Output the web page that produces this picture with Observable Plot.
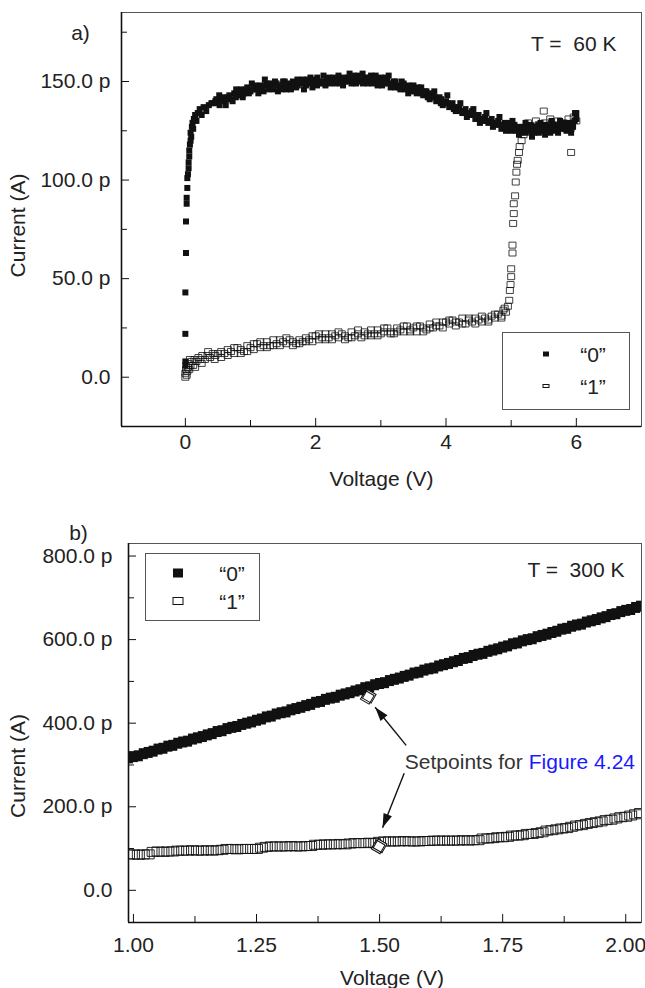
<!DOCTYPE html>
<html><head><meta charset="utf-8">
<script src="https://cdn.jsdelivr.net/npm/d3@7"></script>
<script src="https://cdn.jsdelivr.net/npm/@observablehq/plot@0.6"></script>
<style>
body{margin:0;background:#fff;font-family:"Liberation Sans",Arial,Helvetica,sans-serif;color:#222;}
#wrap{position:relative;width:645px;height:988px;overflow:hidden;}
#wrap svg{display:block;}
.box{position:absolute;border:1px solid #555;box-sizing:border-box;background:#fff;}
.mk{position:absolute;box-sizing:border-box;transform:translate(-50%,-50%);}
.lt{position:absolute;font-size:21px;line-height:21px;transform:translate(-50%,-50%);white-space:nowrap;color:#222;}
</style></head><body><div id="wrap"></div>
<script>
// ---------- panel a) T = 60 K : [voltage (V), current (pA)] ----------
const seriesNames = ["\u201c0\u201d", "\u201c1\u201d"];
const topState0 = [
[0.00,6],[0.00,8],[0.00,22],[0.00,43],[0.01,63],[0.01,79],[0.02,88],[0.02,91],[0.03,96],[0.03,101],[0.04,103],[0.05,106],[0.05,109],[0.06,112],[0.06,115],[0.07,118],[0.08,120],[0.08,124],[0.09,122],[0.10,127],[0.11,129],[0.12,126],[0.13,131],[0.15,133],[0.17,130],[0.19,134],[0.22,136],[0.25,133],[0.28,137],[0.32,135],[0.36,138],[0.40,139],
[0.42,139],[0.46,140],[0.50,139],[0.55,141],[0.60,140],[0.65,142],[0.70,141],[0.75,144],[0.80,143],[0.85,146],[0.90,144],[0.95,147],[1.00,145],[1.05,147],[1.10,146],[1.15,148],[1.20,145],[1.25,149],[1.30,147],[1.35,146],[1.40,149],[1.45,147],[1.50,150],[1.55,146],[1.60,148],[1.65,150],[1.70,147],[1.75,149],[1.80,151],[1.85,148],[1.90,150],[1.95,147],[2.00,151],[2.05,149],[2.10,150],[2.15,148],[2.20,152],[2.25,150],[2.30,149],[2.35,153],[2.40,151],[2.45,150],[2.50,152],[2.55,149],[2.60,151],[2.65,153],[2.70,150],[2.75,152],[2.80,149],[2.85,153],[2.90,150],[2.95,148],[3.00,152],[3.05,149],[3.10,151],[3.15,147],[3.20,150],[3.25,148],[3.30,146],[3.35,149],[3.40,147],[3.45,145],[3.50,148],[3.55,144],[3.60,146],[3.65,143],[3.70,145],[3.75,141],[3.80,143],[3.85,140],[3.90,142],[3.95,138],[4.00,140],[4.05,137],[4.10,139],[4.15,135],[4.20,137],[4.25,134],[4.30,136],[4.35,133],[4.40,135],[4.45,131],[4.50,133],[4.55,130],[4.60,132],[4.65,129],[4.70,131],[4.75,128],[4.80,130],[4.85,126],[4.90,129],[4.95,127],[5.00,125],[5.05,128],[5.10,126],[5.15,124],[5.20,127],[5.25,125],[5.30,128],[5.35,124],[5.40,126],[5.45,129],[5.50,125],[5.55,127],[5.60,124],[5.65,128],[5.70,126],[5.75,130],[5.80,127],[5.85,125],[5.90,129],[5.95,127],[6.00,131],
[0.52,143],[0.62,138],[0.78,146],[0.88,142],[1.02,149],[1.12,144],[1.22,151],[1.32,149],[1.42,145],[1.52,148],[1.62,146],[1.72,151],[1.82,146],[1.92,152],[2.02,148],[2.12,153],[2.22,149],[2.32,151],[2.42,148],[2.52,154],[2.62,149],[2.72,154],[2.82,151],[2.92,153],[3.02,148],[3.12,153],[3.22,147],[3.32,150],[3.42,144],[3.52,146],[3.62,147],[3.72,142],[3.82,145],[3.92,139],[4.02,143],[4.12,136],[4.22,139],[4.32,132],[4.42,136],[4.52,129],[4.62,134],[4.72,127],[4.82,132],[4.92,125],[5.02,130],[5.12,123],[5.22,129],[5.32,122],[5.42,128],[5.52,123],[5.62,130],[5.72,124],[5.82,129],[5.92,124],[5.98,134],[6.00,134],
[0.475,141],[0.525,138],[0.575,142],[0.625,141],[0.675,143],[0.725,140],[0.775,142],[0.825,145],[0.875,143],[0.925,146],[0.975,144],[1.025,146],[1.075,148],[1.125,147],[1.175,146],[1.225,148],[1.275,146],[1.325,148],[1.375,150],[1.425,148],[1.475,146],[1.525,150],[1.575,149],[1.625,147],[1.675,149],[1.725,148],[1.775,150],[1.825,149],[1.875,151],[1.925,149],[1.975,150],[2.025,152],[2.075,150],[2.125,149],[2.175,151],[2.225,150],[2.275,152],[2.325,150],[2.375,149],[2.425,152],[2.475,150],[2.525,151],[2.575,153],[2.625,150],[2.675,151],[2.725,149],[2.775,151],[2.825,152],[2.875,149],[2.925,151],[2.975,150],[3.025,150],[3.075,152],[3.125,149],[3.175,148],[3.225,150],[3.275,147],[3.325,148],[3.375,146],[3.425,148],[3.475,146],[3.525,145],[3.575,147],[3.625,144],[3.675,145],[3.725,143],[3.775,144],[3.825,142],[3.875,141],[3.925,141],[3.975,139],[4.025,139],[4.075,138],[4.125,137],[4.175,136],[4.225,135],[4.275,135],[4.325,134],[4.375,134],[4.425,133],[4.475,132],[4.525,131],[4.575,131],[4.625,130],[4.675,130],[4.725,129],[4.775,129],[4.825,128],[4.875,128],[4.925,127],[4.975,129],[5.025,126],[5.075,125],[5.125,127],[5.175,126],[5.225,124],[5.275,126],[5.325,125],[5.375,127],[5.425,124],[5.475,126],[5.525,128],[5.575,125],[5.625,127],[5.675,125],[5.725,128],[5.775,126],[5.825,128],[5.875,127],[5.925,126],[5.975,130]
];
const topState1 = [
[0.00,0],[0.00,2],[0.01,4],[0.02,1],[0.03,3],[0.04,5],[0.05,7],[0.06,4],[0.08,6],[0.10,8],[0.12,6],[0.14,9],[0.17,8],[0.20,10],[0.23,9],[0.26,11],[0.30,9],[0.34,11],[0.38,10],[0.42,12],[0.46,11],[0.50,12],[0.55,13],[0.60,12],[0.65,14],[0.70,13],[0.75,12],[0.80,15],[0.85,14],[0.90,13],[0.95,16],[1.00,15],[1.05,14],[1.10,17],[1.15,15],[1.20,16],[1.25,18],[1.30,16],[1.35,19],[1.40,17],[1.45,16],[1.50,18],[1.55,17],[1.60,19],[1.65,18],[1.70,17],[1.75,19],[1.80,18],[1.85,20],[1.90,19],[1.95,18],[2.00,21],[2.05,19],[2.10,20],[2.15,22],[2.20,20],[2.25,19],[2.30,21],[2.35,20],[2.40,22],[2.45,21],[2.50,20],[2.55,23],[2.60,21],[2.65,22],[2.70,20],[2.75,23],[2.80,22],[2.85,21],[2.90,22],[2.95,24],[3.00,22],[3.05,23],[3.10,25],[3.15,23],[3.20,22],[3.25,25],[3.30,24],[3.35,23],[3.40,26],[3.45,24],[3.50,25],[3.55,23],[3.60,26],[3.65,25],[3.70,24],[3.75,27],[3.80,25],[3.85,28],[3.90,26],[3.95,25],[4.00,28],[4.05,27],[4.10,29],[4.15,26],[4.20,28],[4.25,30],[4.30,27],[4.35,29],[4.40,28],[4.45,30],[4.50,29],[4.55,28],[4.60,30],[4.65,29],[4.70,31],[4.75,30],[4.80,32],[4.85,31],[4.88,34],[4.92,33],[4.95,36],[4.97,39],[4.98,44],[4.99,47],[5.00,51],[5.00,55],[5.02,63],[5.02,67],[5.03,78],[5.04,83],[5.04,88],[5.06,92],[5.07,99],[5.08,104],[5.09,108],[5.10,110],[5.12,114],[5.13,117],[5.16,120],[5.19,123],[5.22,126],[5.26,129],[5.30,127],[5.34,125],[5.38,130],[5.42,128],[5.46,126],[5.50,135],[5.52,129],[5.56,127],[5.60,131],[5.64,128],[5.68,126],[5.72,130],[5.76,127],[5.80,129],[5.84,126],[5.88,131],[5.92,114],[5.93,128],[5.96,132],[6.00,130],
[0.07,9],[0.15,5],[0.25,7],[0.35,13],[0.45,9],[0.55,10],[0.65,11],[0.75,15],[0.85,12],[0.95,13],[1.05,17],[1.15,18],[1.25,15],[1.35,16],[1.45,19],[1.55,20],[1.65,16],[1.75,17],[1.85,18],[1.95,21],[2.05,22],[2.15,19],[2.25,22],[2.35,23],[2.45,19],[2.55,20],[2.65,24],[2.75,21],[2.85,24],[2.95,21],[3.05,25],[3.15,22],[3.25,23],[3.35,26],[3.45,23],[3.55,26],[3.65,23],[3.75,25],[3.85,26],[3.95,28],[4.05,29],[4.15,28],[4.25,27],[4.35,30],[4.45,27],[4.55,31],[4.65,28],[4.75,32],[4.85,30],[4.90,35]
];
// ---------- panel b) T = 300 K ----------
const botState0 = [
[0.99,317],[1.00,320],[1.01,322],[1.02,327],[1.03,330],[1.04,333],[1.05,338],[1.06,340],[1.07,345],[1.08,347],[1.09,352],[1.10,355],[1.11,357],[1.12,362],[1.13,365],[1.14,368],[1.15,372],[1.16,375],[1.17,380],[1.18,382],[1.19,387],[1.20,390],[1.21,392],[1.22,397],[1.23,400],[1.24,403],[1.25,407],[1.26,410],[1.27,415],[1.28,417],[1.29,422],[1.30,425],[1.31,427],[1.32,432],[1.33,435],[1.34,438],[1.35,442],[1.36,445],[1.37,450],[1.38,452],[1.39,457],[1.40,460],[1.41,462],[1.42,467],[1.43,470],[1.44,473],[1.45,477],[1.46,480],[1.47,485],[1.48,487],[1.49,492],[1.50,495],[1.51,497],[1.52,502],[1.53,505],[1.54,508],[1.55,512],[1.56,515],[1.57,520],[1.58,522],[1.59,527],[1.60,530],[1.61,532],[1.62,537],[1.63,540],[1.64,543],[1.65,547],[1.66,550],[1.67,555],[1.68,557],[1.69,562],[1.70,565],[1.71,567],[1.72,572],[1.73,575],[1.74,578],[1.75,582],[1.76,585],[1.77,590],[1.78,592],[1.79,597],[1.80,600],[1.81,602],[1.82,607],[1.83,610],[1.84,613],[1.85,617],[1.86,620],[1.87,625],[1.88,627],[1.89,632],[1.90,635],[1.91,637],[1.92,642],[1.93,645],[1.94,648],[1.95,652],[1.96,655],[1.97,660],[1.98,662],[1.99,667],[2.00,670],[2.01,672],[2.02,677],[2.03,680]
];
const botState1 = [
[0.99,86],[1.00,86],[1.01,85],[1.02,86],[1.03,86],[1.04,92],[1.05,93],[1.06,92],[1.07,93],[1.08,93],[1.09,95],[1.10,95],[1.11,95],[1.12,96],[1.13,95],[1.14,95],[1.15,96],[1.16,95],[1.17,96],[1.18,97],[1.19,99],[1.20,99],[1.21,98],[1.22,99],[1.23,99],[1.24,99],[1.25,99],[1.26,102],[1.27,104],[1.28,105],[1.29,105],[1.30,105],[1.31,105],[1.32,106],[1.33,105],[1.34,105],[1.35,106],[1.36,106],[1.37,109],[1.38,109],[1.39,110],[1.40,110],[1.41,110],[1.42,111],[1.43,110],[1.44,112],[1.45,113],[1.46,113],[1.47,113],[1.48,114],[1.49,113],[1.50,116],[1.51,117],[1.52,117],[1.53,117],[1.54,117],[1.55,118],[1.56,117],[1.57,117],[1.58,117],[1.59,118],[1.60,118],[1.61,119],[1.62,119],[1.63,119],[1.64,119],[1.65,119],[1.66,119],[1.67,120],[1.68,119],[1.69,120],[1.70,120],[1.71,124],[1.72,124],[1.73,125],[1.74,127],[1.75,127],[1.76,128],[1.77,131],[1.78,131],[1.79,132],[1.80,135],[1.81,135],[1.82,137],[1.83,139],[1.84,143],[1.85,144],[1.86,146],[1.87,148],[1.88,149],[1.89,152],[1.90,155],[1.91,156],[1.92,159],[1.93,161],[1.94,163],[1.95,165],[1.96,168],[1.97,169],[1.98,172],[1.99,175],[2.00,176],[2.01,179],[2.02,182],[2.03,185]
];
const setpointV = [1.475, 1.497];
const setpointI = [462, 104];
const arrowFromV = [1.554, 1.550];
const arrowFromI = [347, 280];
const arrowToV = [1.491, 1.506];
const arrowToI = [438, 150];
const noteV = [1.803];
const noteI = [307];

// axes
const xDomainA = [-0.98, 7.0], yDomainA = [-25, 185];
const xMajorA = [0, 2, 4, 6], xMinorA = [1, 3, 5];
const yMajorA = [0, 50, 100, 150], yMinorA = [25, 75, 125, 175];
const xDomainB = [0.99, 2.032], yDomainB = [-77, 830];
const xMajorB = [1.00, 1.25, 1.50, 1.75, 2.00], xMinorB = [1.125, 1.375, 1.625, 1.875];
const yMajorB = [0, 200, 400, 600, 800], yMinorB = [100, 300, 500, 700];

const FONT = "Liberation Sans, Arial, Helvetica, sans-serif";
const FS = 21;
const fmtI = d => d === 0 ? "0.0" : d.toFixed(1) + " p";
const rectSym = (w, h) => ({draw(ctx) { ctx.rect(-w / 2, -h / 2, w, h); }});
const headSym = {draw(ctx) { ctx.moveTo(0, 0); ctx.lineTo(-4.5, 14); ctx.lineTo(4.5, 14); ctx.closePath(); }};
const toRows = arr => arr.map(([V, I]) => ({V, I}));

function panel(cfg) {
  const iw = 645 - cfg.ml - cfg.mr, ih = cfg.h - cfg.mt - cfg.mb;
  return Plot.plot({
    width: 645, height: cfg.h,
    marginLeft: cfg.ml, marginRight: cfg.mr, marginTop: cfg.mt, marginBottom: cfg.mb,
    style: {fontFamily: FONT, fontSize: FS + "px", color: "#222", background: "white", overflow: "visible"},
    x: {domain: cfg.xDomain}, y: {domain: cfg.yDomain},
    marks: [
      ...cfg.marks,
      Plot.frame({stroke: "#555", strokeWidth: 1}),
      Plot.ruleX([cfg.xDomain[0]], {stroke: "#111", strokeWidth: 1.6}),
      Plot.ruleY([cfg.yDomain[0]], {stroke: "#111", strokeWidth: 1.6}),
      Plot.tickX(cfg.xMajor, {x: d => d, insetTop: ih - 8, stroke: "#111"}),
      Plot.tickX(cfg.xMinor, {x: d => d, insetTop: ih - 6, stroke: "#111"}),
      Plot.tickY(cfg.yMajor, {y: d => d, insetRight: iw - 8, stroke: "#111"}),
      Plot.tickY(cfg.yMinor, {y: d => d, insetRight: iw - 6, stroke: "#111"}),
      Plot.axisX({ticks: cfg.xMajor, tickSize: 0, tickPadding: cfg.xPad, tickFormat: cfg.xFmt, label: null, fontSize: FS, fill: "#222"}),
      Plot.axisY({ticks: cfg.yMajor, tickSize: 0, tickPadding: cfg.yPad, tickFormat: fmtI, label: null, fontSize: FS, fill: "#222"}),
      Plot.text(["Voltage (V)"], {frameAnchor: "bottom", dx: cfg.xlabDx, dy: cfg.xlabDy, textAnchor: "middle", lineAnchor: "middle", fontSize: FS, fill: "#222"}),
      Plot.text(["Current (A)"], {frameAnchor: "left", dx: cfg.ylabDx, dy: cfg.ylabDy, rotate: -90, textAnchor: "middle", lineAnchor: "middle", fontSize: FS, fill: "#222"}),
      Plot.text([cfg.tag], {frameAnchor: "top-left", dx: cfg.tagDx, dy: cfg.tagDy, textAnchor: "middle", lineAnchor: "middle", fontSize: FS, fill: "#222"}),
      Plot.text([cfg.temp], {frameAnchor: "top-right", dx: cfg.tempDx, dy: cfg.tempDy, textAnchor: "end", lineAnchor: "middle", fontSize: FS, fill: "#222"})
    ]
  });
}

const wrap = document.getElementById("wrap");

// top panel
const topPlot = panel({
  h: 500, ml: 121, mr: 4, mt: 12, mb: 74,
  xDomain: xDomainA, yDomain: yDomainA, xMajor: xMajorA, xMinor: xMinorA, yMajor: yMajorA, yMinor: yMinorA,
  xFmt: d => String(d), xPad: 8, yPad: 11,
  xlabDx: 0, xlabDy: 53, ylabDx: -103, ylabDy: 6, tag: "a)", tagDx: -41, tagDy: 21,
  temp: "T =\u00a0 60 K", tempDx: -25, tempDy: 32,
  marks: [
    Plot.dot(toRows(topState0), {x: "V", y: "I", symbol: rectSym(6, 6), fill: "#111", stroke: "none", clip: true}),
    Plot.dot(toRows(topState1), {x: "V", y: "I", symbol: rectSym(7, 6), fill: "none", stroke: "#111", strokeWidth: 0.8, clip: true})
  ]
});
wrap.appendChild(topPlot);

// bottom panel geometry for arrowhead angles
const bML = 128, bMR = 4, bMT = 43, bMB = 66, bH = 488;
const kx = (645 - bML - bMR) / (xDomainB[1] - xDomainB[0]);
const ky = (bH - bMT - bMB) / (yDomainB[1] - yDomainB[0]);
const arrows = arrowFromV.map((v, i) => {
  const dxp = (arrowToV[i] - v) * kx, dyp = -(arrowToI[i] - arrowFromI[i]) * ky;
  return {x1: v, y1: arrowFromI[i], x2: arrowToV[i], y2: arrowToI[i], a: Math.atan2(dxp, -dyp) * 180 / Math.PI};
});
const setpoints = setpointV.map((v, i) => ({V: v, I: setpointI[i]}));
const note = noteV.map((v, i) => ({V: v, I: noteI[i]}));

const bottomPlot = panel({
  h: bH, ml: bML, mr: bMR, mt: bMT, mb: bMB,
  xDomain: xDomainB, yDomain: yDomainB, xMajor: xMajorB, xMinor: xMinorB, yMajor: yMajorB, yMinor: yMinorB,
  xFmt: d => d.toFixed(2), xPad: 15, yPad: 16,
  xlabDx: 7, xlabDy: 56, ylabDx: -110, ylabDy: 33, tag: "b)", tagDx: -50, tagDy: -10,
  temp: "T =\u00a0 300 K", tempDx: -17, tempDy: 27,
  marks: [
    Plot.dot(toRows(botState0), {x: "V", y: "I", symbol: rectSym(9, 11), fill: "#111", stroke: "none", clip: true}),
    Plot.dot(toRows(botState1), {x: "V", y: "I", symbol: rectSym(12, 9), fill: "none", stroke: "#111", strokeWidth: 0.9, clip: true}),
    Plot.dot(setpoints, {x: "V", y: "I", symbol: rectSym(10, 10), rotate: 30, fill: "white", stroke: "#111", strokeWidth: 1, dx: 2, dy: -1}),
    Plot.dot(setpoints, {x: "V", y: "I", symbol: rectSym(10, 10), rotate: 30, fill: "none", stroke: "#111", strokeWidth: 1}),
    Plot.link(arrows, {x1: "x1", y1: "y1", x2: "x2", y2: "y2", stroke: "#111", strokeWidth: 1.4}),
    Plot.dot(arrows, {x: "x2", y: "y2", symbol: headSym, rotate: "a", fill: "#111", stroke: "none"}),
    Plot.text(note, {x: "V", y: "I", text: () => "Setpoints for", textAnchor: "end", dx: -6, lineAnchor: "middle", fontSize: FS, fill: "#333"}),
    Plot.text(note, {x: "V", y: "I", text: () => "Figure 4.24", textAnchor: "start", lineAnchor: "middle", fontSize: FS, fill: "#1a1aff"})
  ]
});
wrap.appendChild(bottomPlot);

// legends (HTML overlays)
function legend(box, rows) {
  const b = document.createElement("div");
  b.className = "box";
  Object.assign(b.style, {left: box[0] + "px", top: box[1] + "px", width: box[2] + "px", height: box[3] + "px"});
  wrap.appendChild(b);
  rows.forEach(r => {
    const m = document.createElement("div");
    m.className = "mk";
    Object.assign(m.style, {left: r.mx + "px", top: r.y + "px", width: r.w + "px", height: r.h + "px",
      background: r.filled ? "#111" : "white", border: r.filled ? "none" : "1px solid #111"});
    wrap.appendChild(m);
    const t = document.createElement("div");
    t.className = "lt";
    t.textContent = r.label;
    Object.assign(t.style, {left: r.tx + "px", top: r.y + "px"});
    wrap.appendChild(t);
  });
}
legend([502, 332, 128, 78], [
  {mx: 546, tx: 593, y: 354, w: 6, h: 5, filled: true, label: seriesNames[0]},
  {mx: 546, tx: 593, y: 386, w: 7, h: 4, filled: false, label: seriesNames[1]}
]);
legend([145, 553, 115, 68], [
  {mx: 178, tx: 232, y: 573, w: 10, h: 9, filled: true, label: seriesNames[0]},
  {mx: 178, tx: 232, y: 601, w: 11, h: 8, filled: false, label: seriesNames[1]}
]);
</script></body></html>
